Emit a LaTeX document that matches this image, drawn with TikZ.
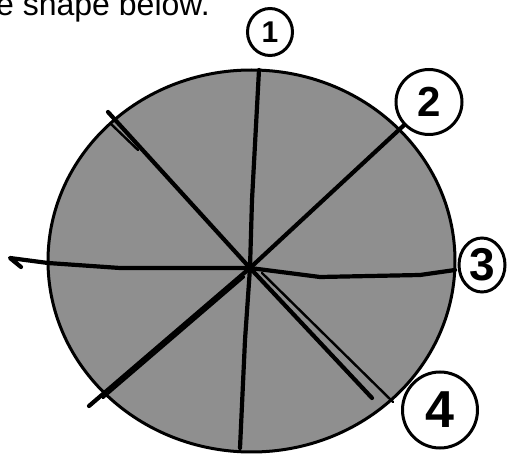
\documentclass[tikz,border=0pt]{standalone}
\usepackage{fontspec}
\setmainfont{Liberation Sans}
\usetikzlibrary{shapes.geometric}
\definecolor{diskgray}{gray}{0.56}
\begin{document}
\begin{tikzpicture}[x=1pt,y=-1pt,
  pen/.style={line width=4.2pt,line cap=round,line join=round},
  thinpen/.style={line width=2.4pt,line cap=round,line join=round},
  numloop/.style={ellipse,draw,line width=3pt,inner sep=0pt},
]
\useasboundingbox (0,0) rectangle (507,457);
% caption, cut off at the top as in the reference
\node[anchor=base west,inner sep=0pt,font=\fontsize{32}{38}\selectfont] (caption) at (-4,15.5) {e shape below.};
% the disc
\filldraw[fill=diskgray,line width=3pt] (251.5,261) ellipse [x radius=203.5, y radius=191];
% numbered loops
\node[numloop,minimum width=45pt,minimum height=47pt,font=\fontsize{30}{32}\selectfont\bfseries] (n1) at (270,32) {1};
\node[numloop,minimum width=66pt,minimum height=65pt,font=\fontsize{42}{44}\selectfont\bfseries] (n2) at (429,102) {2};
\node[numloop,minimum width=46pt,minimum height=54pt,font=\fontsize{46}{48}\selectfont\bfseries] (n3) at (482,265) {3};
\node[numloop,minimum width=75pt,minimum height=76pt,font=\fontsize{52}{54}\selectfont\bfseries] (n4) at (440,410) {4};
% construction points
\coordinate (c) at (250,268);
\coordinate (t1) at (259,70);
\coordinate (b1) at (240,448);
\coordinate (l3) at (10,258);
\coordinate (h3) at (21,267);
\coordinate (r3) at (455,270);
\coordinate (ll2) at (89,406);
\coordinate (ul4) at (108,112);
\coordinate (lr4) at (372,398);
% line 1 (vertical)
\draw[pen] (t1) -- (252,200) -- (c) -- (245,340) -- (b1);
% line 2 (diagonal rising to the right)
\draw[pen] (n2) -- (c) -- (ll2);
\draw[thinpen] (244,277) -- (103,398);
% line 3 (horizontal)
\draw[pen] (h3) -- (l3) -- (48,263) -- (120,268) -- (c) -- (320,277) -- (420,275) -- (r3);
% line 4 (diagonal falling to the right)
\draw[pen] (ul4) -- (c) -- (lr4);
\draw[thinpen] (111,124) -- (138,150);
\draw[thinpen] (262,273) -- (393,402);
\end{tikzpicture}
\end{document}
